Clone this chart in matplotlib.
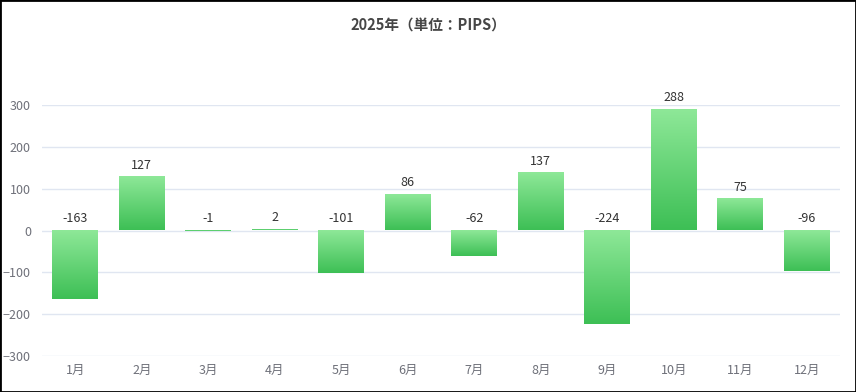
import matplotlib
matplotlib.use("Agg")
import matplotlib.pyplot as plt
import numpy as np
from matplotlib.colors import LinearSegmentedColormap
from matplotlib.patches import Rectangle

plt.rcParams['font.family'] = ['Noto Sans CJK JP', 'DejaVu Sans']

title = "2025年（単位：PIPS）"
months = ["1月", "2月", "3月", "4月", "5月", "6月", "7月", "8月", "9月", "10月", "11月", "12月"]
values = [-163, 127, -1, 2, -101, 86, -62, 137, -224, 288, 75, -96]
yticks = [-300, -200, -100, 0, 100, 200, 300]

fig = plt.figure(figsize=(8.56, 3.92), dpi=100)
ax = fig.add_axes([42/856, 1-356/392, (840-42)/856, (356-105)/392])

x = np.arange(len(months))
bars = ax.bar(x, values, width=0.69, color='none', edgecolor='none', zorder=3)

cmap = LinearSegmentedColormap.from_list('g', ['#8ee898', '#3dbf55'])
grad = np.linspace(0, 1, 256).reshape(-1, 1)
for b in bars:
    bx, by, bw, bh = b.get_x(), b.get_y(), b.get_width(), b.get_height()
    y0, y1 = min(by, by + bh), max(by, by + bh)
    if y1 - y0 <= 0:
        continue
    ax.imshow(grad, cmap=cmap, extent=(bx, bx + bw, y0, y1), origin='upper',
              aspect='auto', zorder=3, interpolation='bilinear')

for xi, v in zip(x, values):
    top = max(v, 0)
    ax.annotate(str(v), (xi, top), xytext=(0, 4), textcoords='offset points',
                ha='center', va='bottom', fontsize=9, color='#333333', zorder=4)

ax.set_xlim(-0.5, len(months) - 0.5)
ax.set_ylim(-300, 300)
ax.set_yticks(yticks)
ax.set_xticks(x)
ax.set_xticklabels(months)
ax.tick_params(axis='both', length=0, labelsize=9, colors='#6e7079')
ax.tick_params(axis='y', pad=8)
ax.tick_params(axis='x', pad=6)
ax.grid(axis='y', color='#e0e6f1', linewidth=1, zorder=0)
ax.set_axisbelow(True)
for s in ax.spines.values():
    s.set_visible(False)

fig.text(0.5, 1-26/392, title, ha='center', va='center', fontsize=10.5,
         fontweight='bold', color='#464646')

fig.patches.append(Rectangle((0, 0), 1, 1, transform=fig.transFigure, fill=False,
                             edgecolor='black', linewidth=2, zorder=10))

fig.savefig("out.png", dpi=100)
